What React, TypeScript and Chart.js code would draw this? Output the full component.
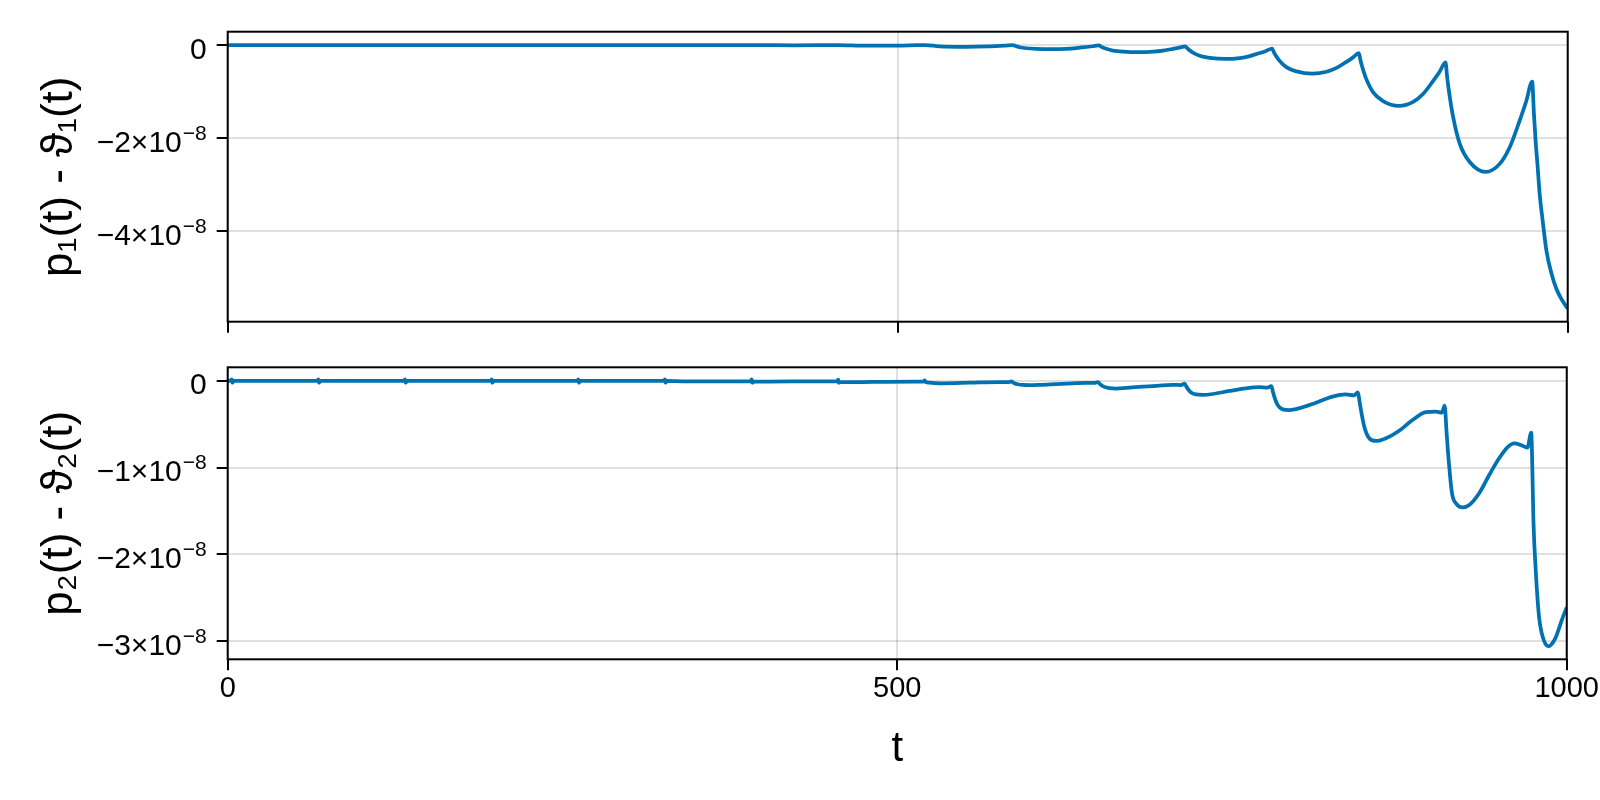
import React, { useEffect, useRef } from "react";
import { Chart, registerables } from "chart.js";

Chart.register(...registerables);

// ---------- data (values in units of 1e-8) ----------
const EXPONENT = -8;

const t1 = [
  0, 3, 67.7, 132.4, 197.1, 261.8, 326.5, 358, 391.2, 423, 455.9, 472, 487, 503, 514,
  520.6, 531.2, 550.6, 568.7, 580.8,
  585.3, 590.9, 595.9, 603.4, 615.3, 625.9, 633.4, 640.8, 645.5,
  650.0, 652.6, 655.6, 660.6, 668.1, 680.0, 690.6, 698.1, 705.5, 710.2,
  714.7, 716.0, 717.3, 720.3, 725.3, 732.8, 744.7, 755.3, 762.8, 770.2, 774.9,
  779.4, 780.7, 782.0, 785.0, 790.0, 797.5, 809.4, 820.0, 827.5, 834.9, 839.6,
  844.1, 845.4, 846.7, 849.7, 854.7, 862.2, 874.1, 884.7, 892.2, 899.6, 904.3,
  908.8, 910.1, 911.4, 914.4, 919.4, 926.9, 938.8, 949.4, 956.9, 964.3, 969.0,
  973.5, 974.8, 976.1, 977.4, 979.1, 981.3, 984.1, 987.7, 991.6, 996.1, 1000,
];
const p1 = [
  0, 0, 0, 0, 0, 0, 0, -0.003, -0.001, -0.007, -0.002, -0.011, -0.014, -0.011, -0.005,
  0, -0.03, -0.04, -0.03, -0.013,
  -0.005, -0.049, -0.07, -0.084, -0.09, -0.082, -0.066, -0.043, -0.027,
  -0.01, -0.049, -0.082, -0.119, -0.143, -0.155, -0.143, -0.12, -0.083, -0.057,
  -0.03, -0.068, -0.101, -0.163, -0.23, -0.276, -0.3, -0.28, -0.238, -0.172, -0.127,
  -0.078, -0.154, -0.22, -0.342, -0.475, -0.566, -0.615, -0.575, -0.492, -0.362, -0.272,
  -0.175, -0.335, -0.475, -0.734, -1.015, -1.207, -1.31, -1.224, -1.049, -0.772, -0.58,
  -0.375, -0.707, -0.997, -1.535, -2.119, -2.517, -2.73, -2.551, -2.188, -1.613, -1.215,
  -0.79, -1.48, -2.084, -2.552, -3.205, -3.773, -4.419, -4.894, -5.248, -5.501, -5.667,
];

const t2 = [
  0, 2.4, 3.0, 3.5, 4.5,
  67.1, 67.7, 68.2, 69.2,
  131.8, 132.4, 132.9, 133.9,
  196.5, 197.1, 197.6, 198.6,
  261.2, 261.8, 262.3, 263.3,
  325.9, 326.5, 327.0, 328.0, 340,
  390.6, 391.2, 391.7, 393, 404, 440,
  455.3, 455.9, 456.4, 458, 469, 490, 515, 519.5,
  520.6, 521.2, 523.8, 529, 534, 554, 575, 583,
  585.3, 586.3, 587.5, 590, 593.8, 598.7, 606.2, 618.7, 631.1, 641, 647.2,
  650, 651.1, 652.2, 654.7, 658.5, 663.5, 671, 683.4, 695.8, 705.7, 711.9,
  714.7, 715.8, 716.9, 719.4, 723.1, 728.1, 735.6, 748.1, 760.5, 770.1, 776.3,
  779.4, 780.5, 781.6, 784.1, 787.8, 792.8, 800.2, 812.7, 825.1, 835.0, 841.2,
  844.1, 845.2, 846.3, 848.8, 852.5, 857.5, 865.0, 874.9, 884.8, 894.8, 902.3, 906.7,
  908.8, 910.3, 911.8, 914.3, 917.2, 922.2, 927.2, 934.6, 942.1, 949.5, 955.7, 960.7, 965.7, 970.6,
  973.5, 974.3, 975.1, 976.9, 979.3, 981.5, 984.0, 986.7, 989.5, 992.0, 994.3, 997.0, 1000,
];
const p2 = [
  0, 0, 0.02, -0.02, 0,
  0, 0.02, -0.02, 0,
  0, 0.02, -0.02, 0,
  0, 0.02, -0.02, 0,
  0, 0.02, -0.02, 0,
  0, 0.02, -0.02, 0, -0.003,
  -0.001, 0.018, -0.02, -0.006, -0.007, -0.003,
  -0.003, 0.016, -0.02, -0.012, -0.013, -0.009, -0.007, -0.008,
  0.008, -0.012, -0.018, -0.024, -0.026, -0.02, -0.013, -0.014,
  -0.004, -0.016, -0.026, -0.038, -0.046, -0.048, -0.045, -0.036, -0.027, -0.022, -0.023,
  -0.012, -0.03, -0.045, -0.068, -0.082, -0.087, -0.08, -0.065, -0.052, -0.045, -0.047,
  -0.03, -0.06, -0.088, -0.133, -0.155, -0.16, -0.15, -0.115, -0.085, -0.072, -0.077,
  -0.058, -0.12, -0.18, -0.277, -0.327, -0.335, -0.315, -0.25, -0.18, -0.154, -0.165,
  -0.13, -0.23, -0.334, -0.527, -0.66, -0.692, -0.66, -0.573, -0.45, -0.36, -0.354, -0.365,
  -0.285, -0.6, -0.911, -1.295, -1.41, -1.457, -1.43, -1.295, -1.084, -0.892, -0.765, -0.719, -0.738, -0.769,
  -0.596, -1.0, -1.6, -2.2, -2.72, -2.92, -3.03, -3.06, -3.02, -2.95, -2.85, -2.73, -2.61,
];

const X_TICKS = [0, 500, 1000];
const Y1_TICKS = [0, -2, -4];
const Y2_TICKS = [0, -1, -2, -3];
const X_RANGE = [0, 1000];
const Y1_RANGE = [-5.95, 0.286];
const Y2_RANGE = [-3.21, 0.158];
const X_LABEL = "t";
const Y1_LABEL = "p\u2081(t) - \u03d1\u2081(t)";
const Y2_LABEL = "p\u2082(t) - \u03d1\u2082(t)";

// ---------- style ----------
const W = 1600;
const H = 800;
const PLOT_LEFT = 227.7;
const PLOT_RIGHT = 1567.7;
const TOP1 = 31.7;
const BOTTOM1 = 321.7;
const TOP2 = 367.3;
const BOTTOM2 = 659.3;
const FAMILY = "'Liberation Sans', 'DejaVu Sans', Arial, sans-serif";
const TICK_SIZE = 29;
const YTICK_SIZE = 30;
const SUP_SIZE = 21;
const YLABEL_SIZE = 44;
const XLABEL_SIZE = 42;
const TICK_LEN = 11;
const LABEL_GAP = 10;
const LINE_COLOR = "#0072B2";
const GRID_COLOR = "rgba(0,0,0,0.12)";

const framePlugin = {
  id: "frame",
  afterDraw(chart: any) {
    const { ctx, chartArea } = chart;
    ctx.save();
    ctx.strokeStyle = "#000";
    ctx.lineWidth = 2;
    ctx.strokeRect(chartArea.left, chartArea.top, chartArea.right - chartArea.left, chartArea.bottom - chartArea.top);
    ctx.restore();
  },
};

const yLabelPlugin = {
  id: "yLabels",
  afterDraw(chart: any) {
    const s = chart.scales.y;
    const ctx = chart.ctx;
    ctx.save();
    ctx.fillStyle = "#000";
    ctx.textBaseline = "alphabetic";
    ctx.textAlign = "right";
    const xr = chart.chartArea.left - TICK_LEN - LABEL_GAP;
    s.ticks.forEach((tk: any) => {
      const y = s.getPixelForValue(tk.value);
      ctx.font = `${YTICK_SIZE}px ${FAMILY}`;
      if (tk.value === 0) {
        ctx.fillText("0", xr, y + 13.5);
        return;
      }
      ctx.font = `${SUP_SIZE}px ${FAMILY}`;
      const sup = (EXPONENT < 0 ? "\u2212" : "") + Math.abs(EXPONENT);
      const sw = ctx.measureText(sup).width;
      ctx.fillText(sup, xr, y + 1.5);
      ctx.font = `${YTICK_SIZE}px ${FAMILY}`;
      const main = (tk.value < 0 ? "\u2212" : "") + Math.abs(tk.value) + "\u00d710";
      ctx.fillText(main, xr - sw - 1, y + 13.8);
    });
    ctx.restore();
  },
};

function makeConfig(
  ts: number[],
  vs: number[],
  yRange: number[],
  yTicks: number[],
  yLabel: string,
  top: number,
  bottom: number,
  isBottom: boolean
): any {
  return {
    type: "line",
    data: {
      datasets: [
        {
          data: ts.map((t, i) => ({ x: t, y: vs[i] })),
          borderColor: LINE_COLOR,
          borderWidth: 3.75,
          pointRadius: 0,
          fill: false,
          cubicInterpolationMode: "monotone",
        },
      ],
    },
    options: {
      animation: false,
      responsive: false,
      maintainAspectRatio: false,
      devicePixelRatio: 1,
      events: [],
      layout: { padding: { top: top, right: W - PLOT_RIGHT, left: 0, bottom: 0 } },
      plugins: { legend: { display: false }, tooltip: { enabled: false } },
      scales: {
        x: {
          type: "linear",
          min: X_RANGE[0],
          max: X_RANGE[1],
          afterBuildTicks: (s: any) => {
            s.ticks = X_TICKS.map((v) => ({ value: v }));
          },
          afterFit: (s: any) => {
            s.height = H - bottom;
          },
          ticks: {
            display: isBottom,
            autoSkip: false,
            maxRotation: 0,
            color: "#000",
            padding: 1,
            font: { family: FAMILY, size: TICK_SIZE },
            callback: (v: any) => String(v),
          },
          grid: {
            color: GRID_COLOR,
            lineWidth: 2,
            drawTicks: true,
            tickLength: TICK_LEN,
            tickColor: "#000",
            tickWidth: 2,
          },
          border: { display: false },
          title: {
            display: isBottom,
            text: X_LABEL,
            color: "#000",
            font: { family: FAMILY, size: XLABEL_SIZE },
            padding: { top: 0, bottom: 25 },
          },
        },
        y: {
          type: "linear",
          min: yRange[0],
          max: yRange[1],
          afterBuildTicks: (s: any) => {
            s.ticks = yTicks.map((v) => ({ value: v }));
          },
          afterFit: (s: any) => {
            s.width = PLOT_LEFT;
          },
          ticks: { display: false },
          grid: {
            color: GRID_COLOR,
            lineWidth: 2,
            drawTicks: true,
            tickLength: TICK_LEN,
            tickColor: "#000",
            tickWidth: 2,
          },
          border: { display: false },
          title: {
            display: true,
            text: yLabel,
            color: "#000",
            font: { family: FAMILY, size: YLABEL_SIZE },
            padding: { top: 33, bottom: 0 },
          },
        },
      },
    },
    plugins: [framePlugin, yLabelPlugin],
  };
}

export default function App() {
  const ref1 = useRef<HTMLCanvasElement | null>(null);
  const ref2 = useRef<HTMLCanvasElement | null>(null);

  useEffect(() => {
    if (!ref1.current || !ref2.current) return;
    const c1 = new Chart(ref1.current, makeConfig(t1, p1, Y1_RANGE, Y1_TICKS, Y1_LABEL, TOP1, BOTTOM1, false));
    const c2 = new Chart(ref2.current, makeConfig(t2, p2, Y2_RANGE, Y2_TICKS, Y2_LABEL, TOP2, BOTTOM2, true));
    return () => {
      c1.destroy();
      c2.destroy();
    };
  }, []);

  const canvasStyle: React.CSSProperties = { position: "absolute", left: 0, top: 0, width: W, height: H };
  return (
    <div style={{ position: "fixed", left: 0, top: 0, width: W, height: H, background: "#fff" }}>
      <canvas ref={ref1} width={W} height={H} style={canvasStyle} />
      <canvas ref={ref2} width={W} height={H} style={canvasStyle} />
    </div>
  );
}
